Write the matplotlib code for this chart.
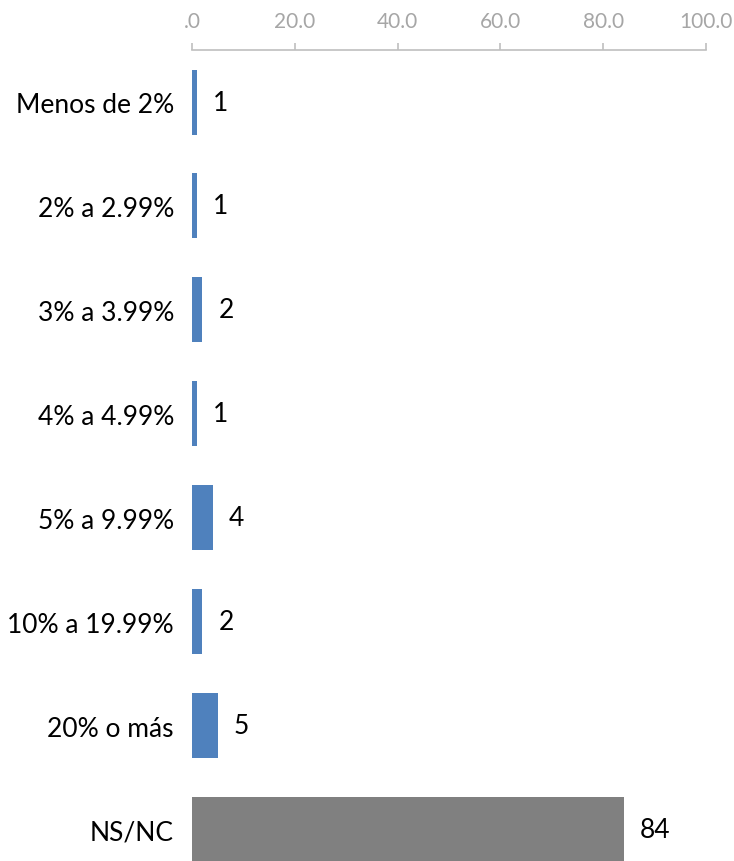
import matplotlib.pyplot as plt
import numpy as np

# data
categories = ['Menos de 2%', '2% a 2.99%', '3% a 3.99%', '4% a 4.99%',
              '5% a 9.99%', '10% a 19.99%', '20% o más', 'NS/NC']
values = [1, 1, 2, 1, 4, 2, 5, 84]
xticks = [0, 20, 40, 60, 80, 100]
xticklabels = ['.0', '20.0', '40.0', '60.0', '80.0', '100.0']

plt.rcParams['font.family'] = ['Lato', 'DejaVu Sans']

fig = plt.figure(figsize=(7.34, 8.62), dpi=100)
ax = fig.add_axes([0.2616, 0.0, 0.9619 - 0.2616, 0.9408])

colors = ['#4F81BD'] * 7 + ['#808080']
y = np.arange(len(categories))
ax.barh(y, values, height=0.625, color=colors)

for yi, v in zip(y, values):
    ax.annotate(str(v), (v, yi), xytext=(16, 0), textcoords='offset pixels',
                ha='left', va='center', fontsize=19, color='black')

ax.set_xlim(0, 100)
ax.set_ylim(7.3, -0.5)
ax.set_yticks(y)
ax.set_yticklabels(categories, fontsize=19)
ax.tick_params(axis='y', length=0, pad=13)

ax.xaxis.tick_top()
ax.set_xticks(xticks)
ax.set_xticklabels(xticklabels, fontsize=15, color='#A6A6A6')
ax.tick_params(axis='x', length=5, color='#BFBFBF', width=1.2, pad=9)

for s in ['left', 'right', 'bottom']:
    ax.spines[s].set_visible(False)
ax.spines['top'].set_color('#BFBFBF')
ax.spines['top'].set_linewidth(1.2)

plt.savefig('out.png', dpi=100)
